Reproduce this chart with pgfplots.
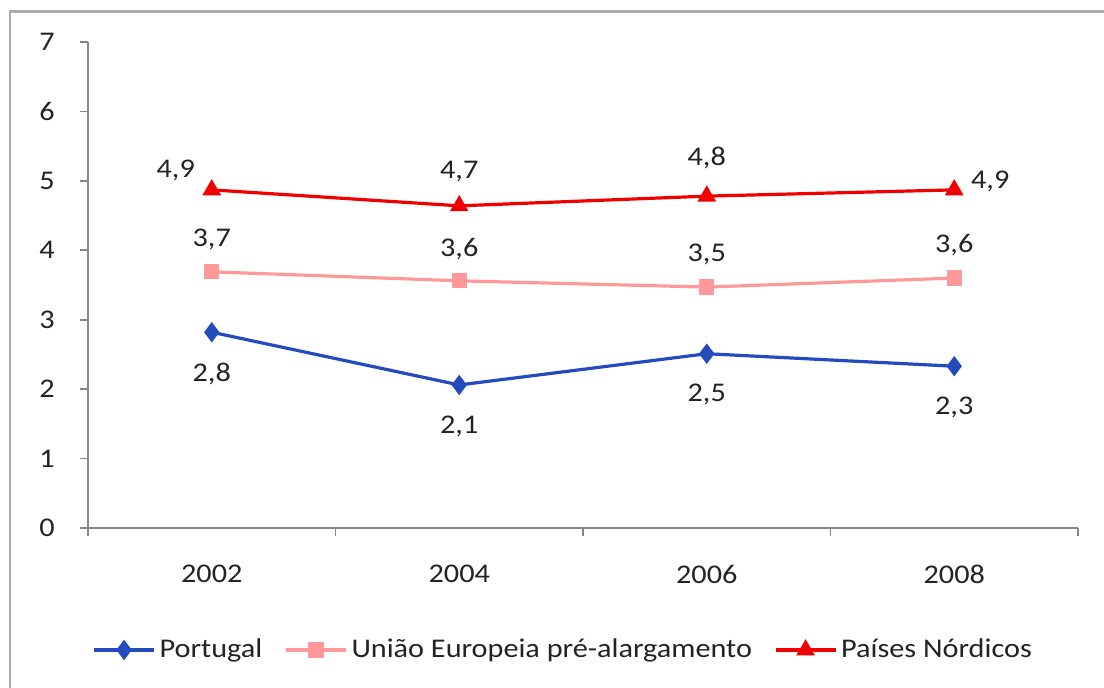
\documentclass[border=0pt]{standalone}
\usepackage{pgfplots}
\pgfplotsset{compat=1.18}
\usepackage{fontspec}
\setmainfont{Carlito}[FakeStretch=1.12]
\definecolor{cPT}{RGB}{35,75,190}
\definecolor{cUE}{RGB}{255,153,153}
\definecolor{cNO}{RGB}{240,0,0}
\definecolor{axgray}{RGB}{134,134,134}
\definecolor{txt}{RGB}{35,35,35}
\begin{document}
\fontsize{13.5pt}{16pt}\selectfont
\begin{tikzpicture}
\path[use as bounding box] (0,0) rectangle (552pt,344pt);
\draw[gray!65, line width=1.4pt] (5pt,-5pt) -- (5pt,338.25pt) -- (560pt,338.25pt);
\begin{axis}[
  at={(44pt,80pt)}, anchor=south west,
  scale only axis, width=495pt, height=243pt,
  xmin=-0.5, xmax=3.5, ymin=0, ymax=7,
  axis x line*=bottom, axis y line*=left,
  axis line style={draw=axgray, line width=0.8pt, -},
  xtick={0,1,2,3}, xticklabels={2002,2004,2006,2008},
  major x tick style={draw=none},
  minor xtick={-0.5,0.5,1.5,2.5,3.5},
  minor x tick style={draw=axgray, line width=0.8pt},
  minor tick length=4pt,
  ytick={0,...,7},
  major tick length=4pt,
  tick align=outside,
  y tick style={draw=axgray, line width=0.8pt},
  /pgf/number format/assume math mode=true,
  ticklabel style={font=\fontsize{13.5pt}{16pt}\selectfont, text=txt},
  yticklabel style={xshift=-8pt},
  xticklabel style={yshift=-10pt},
  clip=false,
  legend columns=3,
  legend style={draw=none, fill=none, at={(0.481,-0.251)}, anchor=center,
    font=\fontsize{13.5pt}{16pt}\selectfont, text=txt,
    /tikz/every odd column/.append style={column sep=0pt},
    /tikz/every even column/.append style={column sep=9pt}},
  legend image code/.code={\draw[mark repeat=2,mark phase=2,#1] plot coordinates {(0pt,0pt) (15pt,0pt) (30pt,0pt)};},
  every axis plot/.append style={line width=1.6pt, mark options={solid}},
  nodes near coords, point meta=explicit symbolic,
  visualization depends on={value \thisrow{dx}\as\dx},
  visualization depends on={value \thisrow{dy}\as\dy},
  every node near coord/.append style={anchor=center, xshift=\dx pt, yshift=\dy pt, text=txt, font=\fontsize{13.5pt}{16pt}\selectfont},
]
\addplot[cPT, mark=diamond*, mark size=3.8pt] table[x=x,y=y,meta=lab]{
x y lab dx dy
0 2.82 2,8 0 -21
1 2.06 2,1 0 -21
2 2.51 2,5 0 -20.5
3 2.33 2,3 0 -20.5
};
\addlegendentry{Portugal}
\addplot[cUE, mark=square*, mark size=3pt] table[x=x,y=y,meta=lab]{
x y lab dx dy
0 3.69 3,7 0 16
1 3.56 3,6 0 16
2 3.47 3,5 0 16.5
3 3.60 3,6 0 16.5
};
\addlegendentry{União Europeia pré-alargamento}
\addplot[cNO, mark=triangle*, mark size=3.8pt] table[x=x,y=y,meta=lab]{
x y lab dx dy
0 4.87 4,9 -18 9.5
1 4.64 4,7 0 17
2 4.78 4,8 0 19
3 4.87 4,9 18 4
};
\addlegendentry{Países Nórdicos}
\end{axis}
\end{tikzpicture}
\end{document}
